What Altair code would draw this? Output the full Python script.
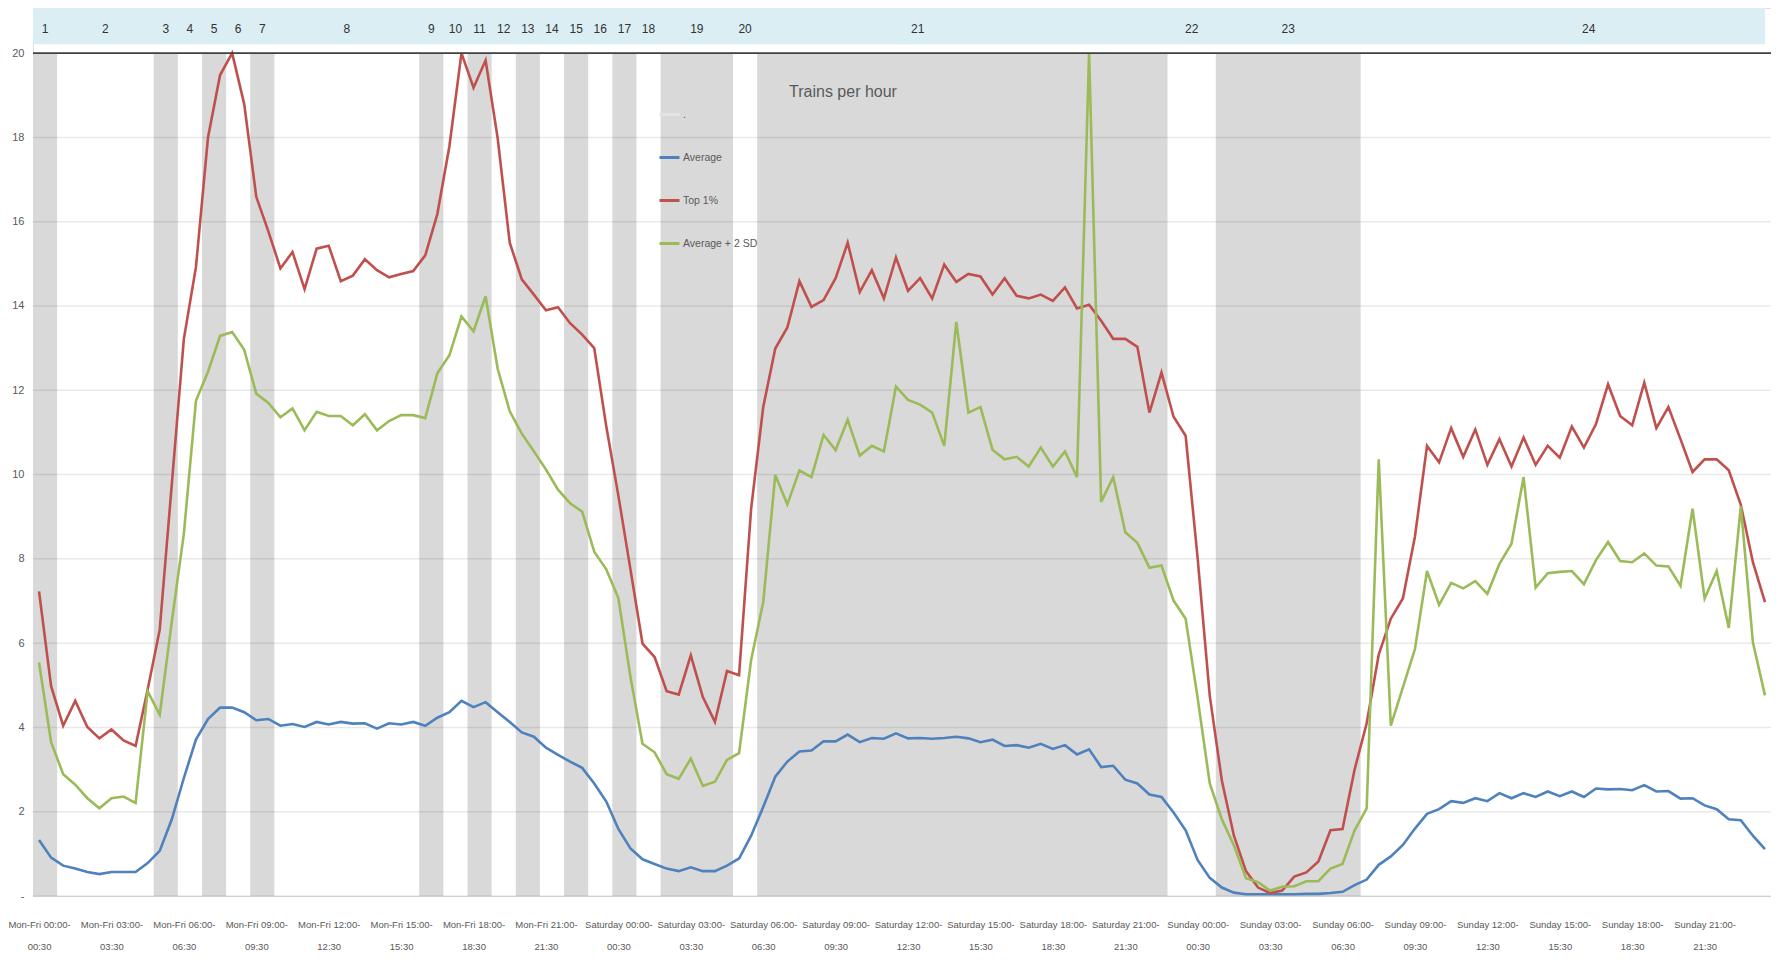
import json
import altair as alt
import pandas as pd

FONT = "Liberation Sans Narrow, Liberation Sans, Arial, sans-serif"

# ---------------- data ----------------
day_types = ["Mon-Fri", "Saturday", "Sunday "]
tick_hours = [0, 3, 6, 9, 12, 15, 18, 21]
tick_labels = [[f"{d} {h:02d}:00-", f"{h:02d}:30"] for d in day_types for h in tick_hours]

average = [
    1.33, 0.91, 0.72, 0.65, 0.57, 0.52, 0.57, 0.57, 0.57, 0.78,
    1.07, 1.82, 2.80, 3.71, 4.20, 4.47, 4.47, 4.36, 4.17, 4.20,
    4.04, 4.08, 4.01, 4.13, 4.07, 4.13, 4.09, 4.10, 3.97, 4.10,
    4.07, 4.13, 4.04, 4.23, 4.36, 4.63, 4.48, 4.60, 4.36, 4.13,
    3.88, 3.78, 3.52, 3.35, 3.19, 3.04, 2.67, 2.24, 1.59, 1.13,
    0.87, 0.76, 0.65, 0.59, 0.68, 0.59, 0.59, 0.72, 0.89, 1.43,
    2.11, 2.83, 3.19, 3.43, 3.45, 3.67, 3.67, 3.83, 3.65, 3.75,
    3.73, 3.86, 3.74, 3.75, 3.73, 3.75, 3.78, 3.74, 3.65, 3.71,
    3.56, 3.58, 3.52, 3.61, 3.49, 3.58, 3.36, 3.48, 3.06, 3.09,
    2.76, 2.67, 2.41, 2.35, 1.98, 1.56, 0.85, 0.43, 0.20, 0.08,
    0.04, 0.04, 0.04, 0.04, 0.04, 0.05, 0.05, 0.07, 0.10, 0.26,
    0.39, 0.74, 0.94, 1.21, 1.60, 1.95, 2.06, 2.25, 2.21, 2.32,
    2.25, 2.44, 2.32, 2.44, 2.35, 2.48, 2.37, 2.48, 2.35, 2.55,
    2.53, 2.54, 2.51, 2.63, 2.48, 2.49, 2.31, 2.32, 2.15, 2.06,
    1.82, 1.80, 1.43, 1.11,
]

top1 = [
    7.23, 4.98, 4.04, 4.63, 4.01, 3.74, 3.95, 3.69, 3.56, 4.90,
    6.32, 9.77, 13.22, 14.92, 18.00, 19.48, 20.00, 18.79, 16.59, 15.77,
    14.89, 15.28, 14.40, 15.36, 15.43, 14.59, 14.72, 15.11, 14.85, 14.68,
    14.76, 14.83, 15.20, 16.18, 17.79, 20.00, 19.18, 19.83, 17.98, 15.50,
    14.63, 14.27, 13.90, 13.97, 13.59, 13.32, 13.00, 11.14, 9.50, 7.75,
    5.99, 5.67, 4.86, 4.78, 5.71, 4.72, 4.13, 5.34, 5.24, 9.19,
    11.60, 12.99, 13.49, 14.59, 13.98, 14.14, 14.66, 15.50, 14.33, 14.85,
    14.18, 15.15, 14.36, 14.66, 14.18, 14.98, 14.57, 14.76, 14.70, 14.27,
    14.66, 14.24, 14.18, 14.27, 14.12, 14.44, 13.94, 14.03, 13.65, 13.22,
    13.22, 13.03, 11.47, 12.42, 11.37, 10.92, 8.00, 4.75, 2.74, 1.43,
    0.59, 0.20, 0.07, 0.13, 0.46, 0.56, 0.82, 1.56, 1.59, 3.00,
    4.10, 5.73, 6.58, 7.06, 8.53, 10.68, 10.29, 11.10, 10.42, 11.07,
    10.23, 10.84, 10.19, 10.88, 10.23, 10.68, 10.40, 11.14, 10.64, 11.20,
    12.14, 11.39, 11.17, 12.18, 11.10, 11.60, 10.84, 10.06, 10.36, 10.36,
    10.10, 9.28, 7.92, 6.97,
]

avg_2sd = [
    5.54, 3.65, 2.89, 2.64, 2.32, 2.08, 2.32, 2.36, 2.21, 4.86,
    4.30, 6.51, 8.60, 11.75, 12.44, 13.29, 13.38, 12.96, 11.92, 11.70,
    11.36, 11.57, 11.05, 11.49, 11.39, 11.39, 11.17, 11.43, 11.05, 11.27,
    11.41, 11.41, 11.34, 12.40, 12.83, 13.75, 13.40, 14.23, 12.51, 11.50,
    10.97, 10.55, 10.12, 9.64, 9.32, 9.12, 8.17, 7.75, 7.07, 5.20,
    3.61, 3.41, 2.89, 2.78, 3.26, 2.61, 2.71, 3.23, 3.39, 5.60,
    6.97, 9.99, 9.29, 10.10, 9.94, 10.94, 10.58, 11.30, 10.45, 10.68,
    10.55, 12.09, 11.77, 11.66, 11.47, 10.68, 13.62, 11.47, 11.60, 10.59,
    10.36, 10.42, 10.19, 10.64, 10.19, 10.55, 9.94, 20.00, 9.35, 9.94,
    8.63, 8.38, 7.79, 7.84, 7.01, 6.58, 4.69, 2.67, 1.82, 1.20,
    0.42, 0.33, 0.13, 0.22, 0.23, 0.35, 0.35, 0.65, 0.76, 1.56,
    2.08, 10.36, 4.04, 4.95, 5.86, 7.71, 6.91, 7.43, 7.30, 7.47,
    7.17, 7.88, 8.36, 9.94, 7.32, 7.66, 7.69, 7.71, 7.40, 7.97,
    8.40, 7.95, 7.92, 8.13, 7.84, 7.82, 7.36, 9.19, 7.06, 7.71,
    6.36, 9.25, 6.02, 4.76,
]

# cluster (period) boundaries, as first half-hour slot index of each cluster 1..24
cluster_starts = [0, 2, 10, 12, 14, 16, 18, 20, 32, 34, 36, 38, 40, 42, 44, 46,
                  48, 50, 52, 58, 60, 94, 98, 110]
cluster_names = [str(i) for i in range(1, 25)]
# label position overrides (slot units) where the label is not centred
label_override = {"21": 73.3, "24": 128.9}

series_names = ["Average", "Top 1%", "Average + 2 SD"]
N = len(average)

# ---------------- tables ----------------
rows = []
for name, vals in zip(series_names, [average, top1, avg_2sd]):
    for i, v in enumerate(vals):
        rows.append({"x": i + 0.5, "value": v, "series": name})
lines_df = pd.DataFrame(rows)

ends = cluster_starts[1:] + [N]
bands = pd.DataFrame({
    "x": cluster_starts,
    "x2": ends,
    "name": cluster_names,
    "shaded": [k % 2 == 0 for k in range(len(cluster_starts))],
})
bands["pos"] = [label_override.get(n, (s + e) / 2) for n, s, e in zip(cluster_names, cluster_starts, ends)]

grid_df = pd.DataFrame({"g": list(range(0, 20, 2))})
one = pd.DataFrame({"a": [0]})

Y_TOP = 21.07
W, H = 1738, 888
GREY_TXT = "#595959"

xscale = alt.Scale(domain=[0, N], nice=False, zero=False)
yscale = alt.Scale(domain=[0, Y_TOP], nice=False, zero=True)

tick_vals = [k * 6 + 0.5 for k in range(len(tick_labels))]
label_expr = json.dumps(tick_labels) + "[floor(datum.value / 6)]"

# shaded bands
band_layer = alt.Chart(bands).transform_filter("datum.shaded").mark_rect(
    color="#D9D9D9"
).encode(
    x=alt.X("x:Q", scale=xscale),
    x2="x2:Q",
    y=alt.datum(0),
    y2=alt.datum(20),
)

# gridlines
grid_layer = alt.Chart(grid_df).mark_rule(color="#000000", opacity=0.085, strokeWidth=1.5).encode(
    y=alt.Y("g:Q", scale=yscale),
    x=alt.datum(0),
    x2=alt.datum(N),
)

# data lines
line_layer = alt.Chart(lines_df).mark_line(strokeWidth=2.6).encode(
    x=alt.X(
        "x:Q",
        scale=xscale,
        axis=alt.Axis(
            title=None, values=tick_vals, labelExpr=label_expr, grid=False, ticks=False,
            domain=False, labelFont=FONT, labelFontSize=9.5, labelColor=GREY_TXT,
            labelPadding=23, labelLineHeight=22, labelBaseline="top",
            labelOverlap=False, labelFlush=False, labelBound=False,
        ),
    ),
    y=alt.Y(
        "value:Q",
        scale=yscale,
        axis=alt.Axis(
            title=None, values=list(range(0, 21, 2)),
            labelExpr="datum.value == 0 ? '-' : datum.label",
            grid=False, ticks=False, domain=False, labelFont=FONT, labelFontSize=11,
            labelColor=GREY_TXT, labelPadding=9,
        ),
    ),
    color=alt.Color(
        "series:N",
        scale=alt.Scale(domain=["."] + series_names,
                        range=["#E4E4E4", "#4F81BD", "#C0504D", "#9BBB59"]),
        legend=alt.Legend(
            title=None, orient="none", legendX=625, legendY=95, padding=0,
            symbolType="stroke", symbolStrokeWidth=3, symbolSize=400,
            labelFont=FONT, labelFontSize=10.5, labelColor=GREY_TXT, labelOffset=2,
            rowPadding=25,
        ),
    ),
    detail="series:N",
)

# top dark line at 20
top_rule = alt.Chart(one).mark_rule(color="#404040", strokeWidth=1.8).encode(
    x=alt.datum(0), x2=alt.datum(N), y=alt.datum(20)
)

# top cluster strip
strip = alt.Chart(one).mark_rect(color="#DAEEF3").encode(
    x=alt.datum(0), x2=alt.datum(N - 0.5), y=alt.datum(20.21), y2=alt.datum(Y_TOP)
)
strip_text = alt.Chart(bands).mark_text(
    font=FONT, fontSize=12, color="#333333", baseline="middle", align="center"
).encode(
    x=alt.X("pos:Q"),
    y=alt.datum(20.56),
    text="name:N",
)

title_text = alt.Chart(one).mark_text(
    font=FONT, fontSize=16, color=GREY_TXT, align="center", baseline="middle"
).encode(x=alt.value(810), y=alt.value(84), text=alt.value("Trains per hour"))

chart = alt.layer(
    band_layer, grid_layer, line_layer, top_rule, strip, strip_text, title_text
).properties(
    width=W, height=H,
    autosize=alt.AutoSizeParams(type="none"),
    padding={"left": 25, "top": 0, "right": 0, "bottom": 56},
).configure_view(stroke=None).configure(background="white")

chart.save("out.html", embed_options={"renderer": "svg", "actions": False})
